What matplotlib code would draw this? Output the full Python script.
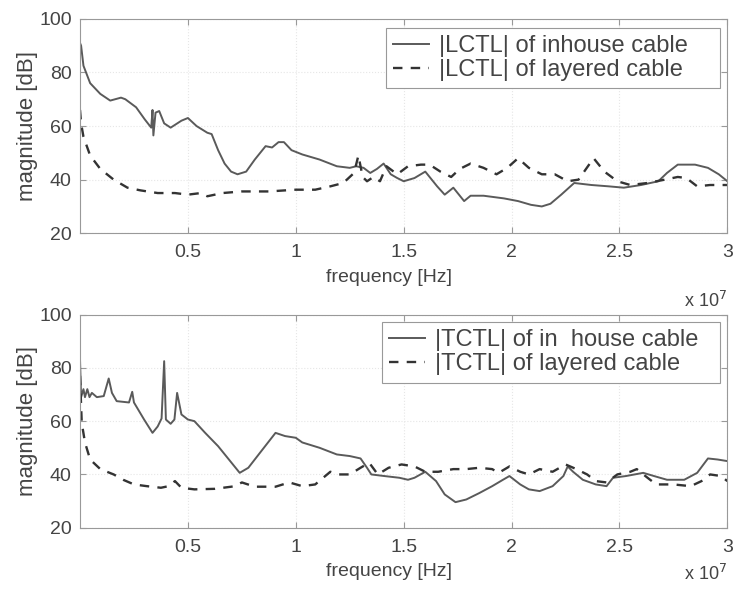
import numpy as np
import matplotlib
matplotlib.use("Agg")
import matplotlib.pyplot as plt

plt.rcParams['font.family'] = ['Liberation Sans', 'DejaVu Sans']

# frequency in units of 1e7 Hz, magnitude in dB
lctl_in_f = [0.0, 0.005, 0.016, 0.047, 0.094, 0.14, 0.19, 0.21, 0.26, 0.30, 0.33, 0.336, 0.34,
             0.35, 0.367, 0.39, 0.42, 0.47, 0.50, 0.54, 0.59, 0.61, 0.64, 0.67, 0.70, 0.73, 0.77,
             0.81, 0.86, 0.89, 0.92, 0.945, 0.98, 1.03, 1.11, 1.19, 1.25, 1.28, 1.314, 1.345,
             1.376, 1.407, 1.44, 1.47, 1.5, 1.55, 1.60, 1.62, 1.655, 1.69, 1.73, 1.78, 1.81, 1.87,
             1.965, 2.03, 2.09, 2.14, 2.18, 2.23, 2.29, 2.37, 2.45, 2.52, 2.60, 2.68, 2.72, 2.77,
             2.85, 2.91, 2.96, 3.0]
lctl_in_v = [91, 90, 82.5, 76, 72, 69.5, 70.6, 70, 67, 62.5, 59.4, 66, 56.5,
             65, 65.6, 61, 59.4, 62, 63, 60, 57.5, 57, 51, 46, 43, 42, 43,
             47.5, 52.5, 52, 54, 54, 51, 49.4, 47.5, 45, 44.4, 45, 44.4, 42.5,
             44, 46, 42, 40.6, 39.4, 40.6, 43, 41, 37.5, 34.4, 37, 32, 34, 34,
             33, 32, 30.6, 30, 31, 34.4, 38.75, 38, 37.5, 37, 38, 39.4, 42.5, 45.6,
             45.6, 44.4, 42, 39.4]

lctl_lay_f = [0.0, 0.005, 0.016, 0.047, 0.094, 0.156, 0.22, 0.28, 0.36, 0.44, 0.50, 0.56, 0.59,
              0.66, 0.75, 0.875, 1.0, 1.09, 1.16, 1.22, 1.27, 1.29, 1.31, 1.33, 1.36, 1.39, 1.42,
              1.47, 1.52, 1.58, 1.62, 1.67, 1.72, 1.76, 1.81, 1.87, 1.93, 1.98, 2.03, 2.08, 2.14,
              2.20, 2.26, 2.31, 2.345, 2.38, 2.43, 2.49, 2.55, 2.63, 2.71, 2.77, 2.81, 2.86, 2.92,
              3.0]
lctl_lay_v = [66, 61, 56, 49, 44, 40, 37, 36, 35, 35, 34.4, 35, 33.8,
              35, 35.6, 35.6, 36.25, 36.25, 37.5, 38.75, 42.5, 49, 41, 39.4, 41, 39.4, 45,
              42, 45, 45.6, 45.6, 43, 41, 44, 46, 44.4, 42, 44.4, 48, 44.4, 42,
              42, 39.4, 40, 44, 48, 43, 39.4, 38, 38.75, 40, 41, 40.6, 37.5, 38,
              38]

tctl_in_f = [0.0, 0.005, 0.016, 0.023, 0.034, 0.044, 0.055, 0.078, 0.11, 0.133, 0.148, 0.17,
             0.227, 0.242, 0.25, 0.297, 0.336, 0.36, 0.378, 0.39, 0.398, 0.42, 0.4375, 0.45,
             0.47, 0.5, 0.53, 0.58, 0.64, 0.69, 0.74, 0.78, 0.84, 0.906, 0.95, 1.0, 1.03, 1.11,
             1.19, 1.25, 1.30, 1.33, 1.35, 1.41, 1.48, 1.52, 1.55, 1.60, 1.65, 1.69, 1.74, 1.79,
             1.85, 1.91, 1.96, 1.99, 2.04, 2.08, 2.13, 2.19, 2.24, 2.26, 2.285, 2.33, 2.39, 2.44,
             2.47, 2.53, 2.61, 2.66, 2.72, 2.80, 2.86, 2.91, 2.955, 3.0]
tctl_in_v = [83, 69, 72, 69, 72, 69, 70.6, 69, 69.4, 76, 70.6, 67.5,
             67, 71, 67, 60.6, 55.6, 58, 61, 82.5, 60.6, 59, 60.6, 70.6,
             62.5, 60.6, 60, 55.6, 50.6, 45.6, 40.6, 42.5, 48.75, 55.6, 54.4, 53.75, 52, 50,
             47.5, 46.9, 46, 42.5, 40, 39.4, 38.75, 38, 38.75, 41, 37.5, 32.5, 29.6, 30.6,
             33, 35.6, 38, 39.4, 36.25, 34.4, 33.75, 35.6, 39.4, 43, 41, 38, 36.25, 35.6,
             38.75, 39.4, 40.6, 39.4, 38, 38, 40.6, 46, 45.6, 45]

tctl_lay_f = [0.0, 0.008, 0.023, 0.047, 0.094, 0.156, 0.2, 0.25, 0.31, 0.375, 0.41, 0.44, 0.47,
              0.53, 0.625, 0.72, 0.75, 0.81, 0.906, 0.97, 1.03, 1.09, 1.16, 1.2, 1.25, 1.30, 1.34,
              1.38, 1.43, 1.49, 1.55, 1.60, 1.66, 1.73, 1.79, 1.85, 1.91, 1.94, 1.99, 2.04, 2.08,
              2.13, 2.19, 2.25, 2.30, 2.35, 2.39, 2.44, 2.49, 2.55, 2.58, 2.63, 2.67, 2.75, 2.83,
              2.88, 2.92, 2.97, 3.0]
tctl_lay_v = [77, 59.4, 52, 45.6, 42, 40, 38, 36.25, 35.6, 35, 35.6, 37.5, 35,
              34.4, 34.6, 35.6, 37, 35.4, 35.4, 37, 35.6, 36.25, 41, 40, 40, 42.5, 44.4,
              40, 42.5, 43.75, 43, 41, 41, 42, 42, 42.5, 42, 40.6, 43, 41, 40,
              42, 41, 43.75, 42, 40, 37.5, 37, 40, 41, 42, 38.75, 36.25, 36.25, 35.6,
              37.5, 40, 39.4, 37.5]

panels = [
    (lctl_in_f, lctl_in_v, lctl_lay_f, lctl_lay_v,
     '|LCTL| of inhouse cable', '|LCTL| of layered cable', -0.27, (0.473, 0.958)),
    (tctl_in_f, tctl_in_v, tctl_lay_f, tctl_lay_v,
     '|TCTL| of in  house cable', '|TCTL| of layered cable', -0.17, (0.467, 0.965)),
]

fig = plt.figure(figsize=(7.34, 5.89), dpi=100)
boxes = [[0.109, 0.604, 0.882, 0.364], [0.109, 0.104, 0.882, 0.362]]
lc = '#5a5a5a'
tc = '#444444'

for box, (f1, v1, f2, v2, lab1, lab2, exp_y, leg_xy) in zip(boxes, panels):
    ax = fig.add_axes(box)
    ax.plot(np.array(f1) * 1e7, v1, color=lc, lw=1.4, label=lab1)
    ax.plot(np.array(f2) * 1e7, v2, color='#333333', lw=1.7, ls=(0, (4, 3.5)), label=lab2)
    ax.set_xlim(0, 3e7)
    ax.set_ylim(20, 100)
    ax.set_xticks([0.5e7, 1e7, 1.5e7, 2e7, 2.5e7, 3e7])
    ax.set_xticklabels(['0.5', '1', '1.5', '2', '2.5', '3'])
    ax.set_yticks([20, 40, 60, 80, 100])
    ax.grid(True, color='#e6e6e6', ls=':', lw=0.8)
    ax.tick_params(direction='in', labelsize=14, colors='#999999', labelcolor=tc,
                   top=True, right=True, length=4)
    ax.tick_params(axis='x', pad=8)
    ax.tick_params(axis='y', pad=6)
    for s in ax.spines.values():
        s.set_color('#999999')
    ax.set_xlabel('frequency [Hz]', fontsize=14, color=tc)
    ax.xaxis.set_label_coords(0.477, -0.165, transform=ax.transAxes)
    ax.xaxis.label.set_va('top')
    ax.set_ylabel('magnitude [dB]', fontsize=16, color=tc, labelpad=1)
    ax.text(1.0, exp_y, r'x 10$^7$', transform=ax.transAxes, ha='right', va='top',
            fontsize=13, color=tc)
    x0, y1 = leg_xy
    leg = ax.legend(loc='upper right', bbox_to_anchor=(x0, y1 - 0.3, 0.988 - x0, 0.3),
                    mode='expand', fontsize=17, handlelength=1.5, handletextpad=0.45,
                    fancybox=False, framealpha=1, borderaxespad=0.0, labelspacing=0.1,
                    borderpad=0.3)
    leg.get_frame().set_edgecolor('#999999')
    leg.get_frame().set_linewidth(0.8)
    for t in leg.get_texts():
        t.set_color(tc)

fig.savefig('out.png', dpi=100)
